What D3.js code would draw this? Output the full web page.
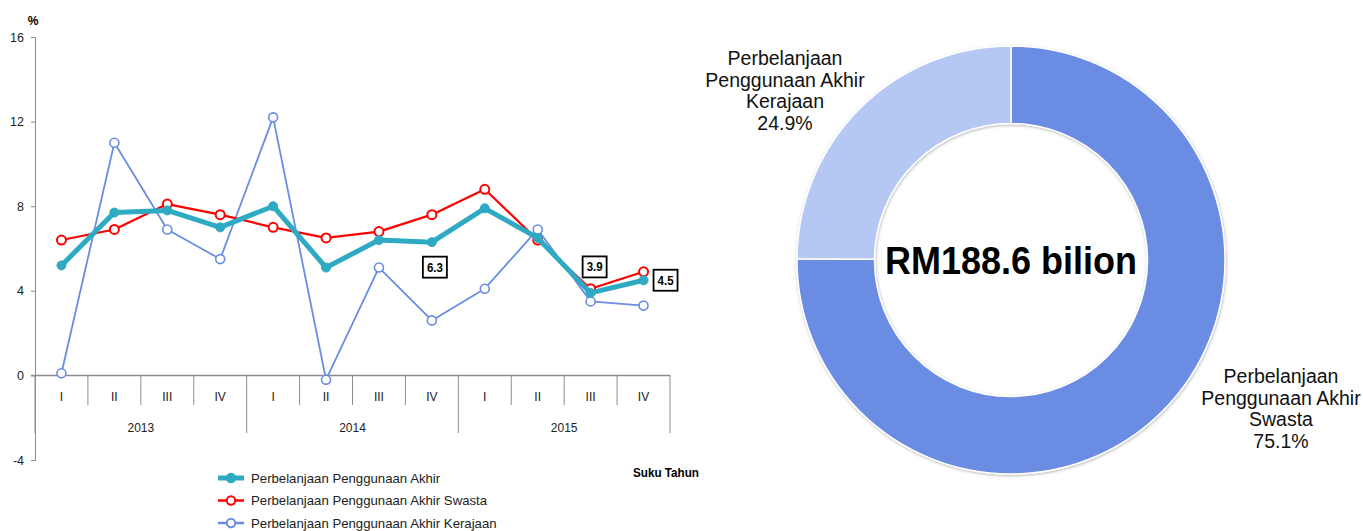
<!DOCTYPE html>
<html>
<head>
<meta charset="utf-8">
<script src="https://cdn.jsdelivr.net/npm/d3@7/dist/d3.min.js"></script>
<style>
  body { margin: 0; background: #fff; }
  svg { display: block; font-family: "Liberation Sans", Arial, sans-serif; }
</style>
</head>
<body>
<svg id="chart" width="1363" height="531"></svg>
<script>
// ---- data ----
const years = ["2013", "2014", "2015"];
const quarters = ["I", "II", "III", "IV"];
const periods = years.flatMap(y => quarters.map(q => y + "-" + q));

const totalGrowth = [5.2, 7.7, 7.8, 7.0, 8.0, 5.1, 6.4, 6.3, 7.9, 6.5, 3.9, 4.5];
const privateGrowth = [6.4, 6.9, 8.1, 7.6, 7.0, 6.5, 6.8, 7.6, 8.8, 6.4, 4.1, 4.9];
const govGrowth = [0.1, 11.0, 6.9, 5.5, 12.2, -0.2, 5.1, 2.6, 4.1, 6.9, 3.5, 3.3];

const yTicks = [-4, 0, 4, 8, 12, 16];
const seriesNames = [
  "Perbelanjaan Penggunaan Akhir",
  "Perbelanjaan Penggunaan Akhir Swasta",
  "Perbelanjaan Penggunaan Akhir Kerajaan"
];
// labelled points on the total series (index into periods)
const labelledIdx = [7, 10, 11];

const shareNames = ["Perbelanjaan Penggunaan Akhir Swasta", "Perbelanjaan Penggunaan Akhir Kerajaan"];
const shareValues = [75.1, 24.9];
const totalLabel = "RM188.6 bilion";

const svg = d3.select("#chart");

// ---- line chart ----
const x = d3.scaleBand().domain(periods).range([35, 670]).padding(0);
const cx = d => x(d) + x.bandwidth() / 2;
const y = d3.scaleLinear().domain([-4, 16]).range([460, 37]);

const axisColor = "#8c8c8c";

// y axis
const yAxis = svg.append("g")
  .attr("transform", "translate(35,0)")
  .call(d3.axisLeft(y).tickValues(yTicks).tickFormat(d => String(d)).tickSize(4).tickPadding(7));
yAxis.select(".domain").attr("stroke", axisColor);
yAxis.selectAll(".tick line").attr("stroke", axisColor);
yAxis.selectAll(".tick text")
  .attr("font-size", 12.5)
  .attr("fill", "#222")
  .attr("font-family", "Liberation Sans, Arial");

svg.append("text")
  .attr("x", 33).attr("y", 25)
  .attr("text-anchor", "middle")
  .attr("font-weight", "bold")
  .attr("font-size", 12)
  .text("%");

// x axis at zero
svg.append("line")
  .attr("x1", 31).attr("x2", 670)
  .attr("y1", y(0)).attr("y2", y(0))
  .attr("stroke", axisColor).attr("stroke-width", 1.5);

// quarter ticks
const qEdges = periods.map(p => x(p)).concat([x.range()[1]]);
svg.append("g").selectAll("line")
  .data(qEdges)
  .join("line")
  .attr("x1", d => d).attr("x2", d => d)
  .attr("y1", y(0))
  .attr("y2", (d, i) => (i % 4 === 0 ? 433 : 405))
  .attr("stroke", axisColor)
  .attr("stroke-width", 1);

// quarter labels
svg.append("g").selectAll("text")
  .data(periods)
  .join("text")
  .attr("x", d => cx(d))
  .attr("y", 401)
  .attr("text-anchor", "middle")
  .attr("font-size", 12)
  .attr("fill", "#222")
  .text(d => d.split("-")[1]);

// year labels
svg.append("g").selectAll("text")
  .data(years)
  .join("text")
  .attr("x", d => (x(d + "-I") + x(d + "-IV") + x.bandwidth()) / 2)
  .attr("y", 432)
  .attr("text-anchor", "middle")
  .attr("font-size", 12)
  .attr("fill", "#222")
  .text(d => d);

svg.append("text")
  .attr("x", 666).attr("y", 477)
  .attr("text-anchor", "middle")
  .attr("font-weight", "bold")
  .attr("font-size", 12)
  .attr("textLength", 66)
  .attr("lengthAdjust", "spacingAndGlyphs")
  .text("Suku Tahun");

const line = d3.line().x((d, i) => cx(periods[i])).y(d => y(d));

const series = [
  { values: govGrowth, color: "#6a8de3", width: 1.8, r: 4.5, fill: "#fff", sw: 1.6 },
  { values: privateGrowth, color: "#ff0000", width: 2.2, r: 4.5, fill: "#fff", sw: 2 },
  { values: totalGrowth, color: "#2eaac2", width: 5, r: 4.5, fill: "#2eaac2", sw: 1 }
];

series.forEach(s => {
  const g = svg.append("g");
  g.append("path")
    .datum(s.values)
    .attr("d", line)
    .attr("fill", "none")
    .attr("stroke", s.color)
    .attr("stroke-width", s.width)
    .attr("stroke-linejoin", "round");
  g.selectAll("circle")
    .data(s.values)
    .join("circle")
    .attr("cx", (d, i) => cx(periods[i]))
    .attr("cy", d => y(d))
    .attr("r", s.r)
    .attr("fill", s.fill)
    .attr("stroke", s.color)
    .attr("stroke-width", s.sw);
});

// boxed value labels
const labelOffsets = [[3, 25], [4, -26], [22, 0]];
labelledIdx.forEach((idx, k) => {
  const px = cx(periods[idx]) + labelOffsets[k][0];
  const py = y(totalGrowth[idx]) + labelOffsets[k][1];
  svg.append("rect")
    .attr("x", px - 12).attr("y", py - 10.5)
    .attr("width", 24).attr("height", 21)
    .attr("fill", "#fff")
    .attr("stroke", "#000")
    .attr("stroke-width", 1.8);
  svg.append("text")
    .attr("x", px).attr("y", py + 4.5)
    .attr("text-anchor", "middle")
    .attr("font-size", 12)
    .attr("font-weight", "bold")
    .attr("textLength", 16)
    .attr("lengthAdjust", "spacingAndGlyphs")
    .text(totalGrowth[idx].toFixed(1));
});

// legend
const legend = svg.append("g");
const legendSeries = [series[2], series[1], series[0]];
legendSeries.forEach((s, i) => {
  const ly = 478 + i * 22.5;
  legend.append("line")
    .attr("x1", 218).attr("x2", 244)
    .attr("y1", ly).attr("y2", ly)
    .attr("stroke", s.color)
    .attr("stroke-width", i === 0 ? 5 : 2.5);
  legend.append("circle")
    .attr("cx", 231).attr("cy", ly)
    .attr("r", 4.2)
    .attr("fill", s.fill)
    .attr("stroke", s.color)
    .attr("stroke-width", 2);
  legend.append("text")
    .attr("x", 251).attr("y", ly + 4.5)
    .attr("font-size", 13.2)
    .attr("fill", "#222")
    .text(seriesNames[i]);
});

// ---- donut ----
const defs = svg.append("defs");
const shadow = defs.append("filter")
  .attr("id", "ring-shadow")
  .attr("x", "-10%").attr("y", "-10%")
  .attr("width", "120%").attr("height", "120%");
shadow.append("feDropShadow")
  .attr("dx", 0.5).attr("dy", 1)
  .attr("stdDeviation", 1.6)
  .attr("flood-color", "#000")
  .attr("flood-opacity", 0.3);

const donut = svg.append("g").attr("transform", "translate(1011,260)");
const pie = d3.pie().sort(null).value(d => d);
const arc = d3.arc().innerRadius(136.5).outerRadius(214);
const shareColors = ["#6a8de3", "#b4c8f3"];

donut.append("g")
  .attr("filter", "url(#ring-shadow)")
  .selectAll("path")
  .data(pie(shareValues))
  .join("path")
  .attr("d", arc)
  .attr("fill", (d, i) => shareColors[i])
  .attr("stroke", "#fff")
  .attr("stroke-width", 1.5);

donut.append("text")
  .attr("x", 0).attr("y", 14)
  .attr("text-anchor", "middle")
  .attr("font-weight", "bold")
  .attr("font-size", 38)
  .attr("textLength", 252)
  .attr("lengthAdjust", "spacingAndGlyphs")
  .text(totalLabel);

// slice labels
const sliceLabelPos = [[1281, 383], [785, 65]];
shareNames.forEach((name, i) => {
  const lines = ["Perbelanjaan", "Penggunaan Akhir", name.replace("Perbelanjaan Penggunaan Akhir ", ""), shareValues[i].toFixed(1) + "%"];
  const t = svg.append("text")
    .attr("text-anchor", "middle")
    .attr("font-size", 19.5)
    .attr("fill", "#111");
  lines.forEach((ln, j) => {
    t.append("tspan")
      .attr("x", sliceLabelPos[i][0])
      .attr("y", sliceLabelPos[i][1] + j * 21.7)
      .text(ln);
  });
});
</script>
</body>
</html>
